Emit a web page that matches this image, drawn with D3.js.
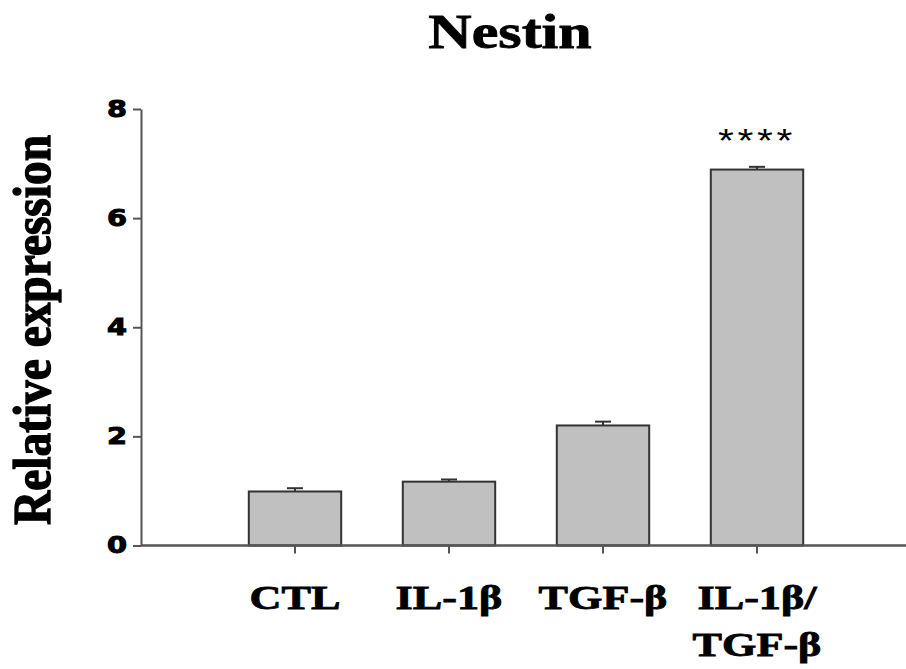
<!DOCTYPE html>
<html>
<head>
<meta charset="utf-8">
<script src="https://cdn.jsdelivr.net/npm/d3@7"></script>
<style>
  body { margin: 0; background: #fff; }
  svg { display: block; }
</style>
</head>
<body>
<div id="chart"></div>
<script>
// data
const groups = ["CTL", "IL-1β", "TGF-β", "IL-1β/TGF-β"];
const groupLines = [["CTL"], ["IL-1β"], ["TGF-β"], ["IL-1β/", "TGF-β"]];
const means = [0.99, 1.17, 2.2, 6.89];
const errors = [0.06, 0.04, 0.07, 0.05];
const yTicks = [0, 2, 4, 6, 8];
const marks = ["", "", "", "****"];

const width = 906, height = 669;

let svg = d3.select("#chart").append("svg")
    .attr("width", width)
    .attr("height", height);

let y = d3.scaleLinear().domain([0, 8]).range([545.5, 109]);
let x = d3.scaleBand().domain(groups).range([218, 834])
    .paddingInner(0.4).paddingOuter(0.2);
const axisX = 141;

// stretch a text element horizontally by factor k
function stretch(sel, k) {
    sel.each(function() {
        let w = this.getComputedTextLength();
        d3.select(this).attr("textLength", w * k).attr("lengthAdjust", "spacingAndGlyphs");
    });
}

// bars
svg.selectAll("rect.bar")
    .data(means)
    .enter()
    .append("rect")
    .attr("class", "bar")
    .attr("x", (d, i) => x(groups[i]))
    .attr("width", x.bandwidth())
    .attr("y", d => y(d))
    .attr("height", d => y(0) - y(d))
    .attr("fill", "#c0c0c0")
    .attr("stroke", "#333")
    .attr("stroke-width", 2);

// error bars (upper only)
let err = svg.selectAll("g.err")
    .data(means)
    .enter()
    .append("g")
    .attr("class", "err")
    .attr("stroke", "#333")
    .attr("stroke-width", 2);
err.append("line")
    .attr("x1", (d, i) => x(groups[i]) + x.bandwidth() / 2)
    .attr("x2", (d, i) => x(groups[i]) + x.bandwidth() / 2)
    .attr("y1", d => y(d))
    .attr("y2", (d, i) => y(d + errors[i]));
err.append("line")
    .attr("x1", (d, i) => x(groups[i]) + x.bandwidth() / 2 - 8)
    .attr("x2", (d, i) => x(groups[i]) + x.bandwidth() / 2 + 8)
    .attr("y1", (d, i) => y(d + errors[i]))
    .attr("y2", (d, i) => y(d + errors[i]));

// y axis
let yAxis = svg.append("g")
    .attr("transform", `translate(${axisX},0)`)
    .call(d3.axisLeft(y).tickValues(yTicks).tickSize(8).tickSizeOuter(0).tickPadding(6));
yAxis.select(".domain").attr("stroke", "#555").attr("stroke-width", 2);
yAxis.selectAll(".tick line").attr("stroke", "#555").attr("stroke-width", 2);
yAxis.selectAll(".tick text")
    .attr("font-family", "'DejaVu Sans', sans-serif")
    .attr("font-weight", "bold")
    .attr("font-size", 23)
    .attr("fill", "#000")
    .attr("stroke", "#000")
    .attr("stroke-width", 1)
    .attr("x", -14)
    .call(stretch, 1.25);

// x axis: ticks from the band scale, baseline drawn across to the right edge
let xAxis = svg.append("g")
    .attr("transform", `translate(0,${y(0)})`)
    .call(d3.axisBottom(x).tickSize(8).tickSizeOuter(0).tickFormat(""));
xAxis.select(".domain").remove();
xAxis.selectAll(".tick line").attr("stroke", "#555").attr("stroke-width", 2);
svg.append("line")
    .attr("x1", axisX).attr("x2", width)
    .attr("y1", y(0)).attr("y2", y(0))
    .attr("stroke", "#555").attr("stroke-width", 2.5);

// category labels
let labels = svg.selectAll("text.cat")
    .data(groupLines)
    .enter()
    .append("text")
    .attr("class", "cat")
    .attr("font-family", "'Liberation Serif', 'Times New Roman', serif")
    .attr("font-weight", "bold")
    .attr("font-size", 34)
    .attr("stroke", "#000")
    .attr("stroke-width", 0.8)
    .attr("text-anchor", "middle");
labels.selectAll("tspan")
    .data((d, i) => d.map(t => ({ t: t, g: groups[i] })))
    .enter()
    .append("tspan")
    .attr("x", d => x(d.g) + x.bandwidth() / 2)
    .attr("y", (d, j) => 609 + j * 47)
    .text(d => d.t);
labels.selectAll("tspan").call(stretch, 1.3);

// significance stars
svg.selectAll("text.sig")
    .data(means)
    .enter()
    .append("text")
    .attr("class", "sig")
    .attr("x", (d, i) => x(groups[i]) + x.bandwidth() / 2)
    .attr("y", (d, i) => y(d + errors[i]) - 15)
    .attr("text-anchor", "middle")
    .attr("font-family", "'Liberation Sans', Arial, sans-serif")
    .attr("font-size", 34)
    .attr("letter-spacing", 3)
    .text((d, i) => marks[i])
    .filter((d, i) => marks[i] !== "")
    .call(stretch, 1.2);

// title
svg.append("text")
    .attr("x", 510)
    .attr("y", 48)
    .attr("text-anchor", "middle")
    .attr("font-family", "'Liberation Serif', 'Times New Roman', serif")
    .attr("font-weight", "bold")
    .attr("font-size", 48)
    .attr("stroke", "#000")
    .attr("stroke-width", 0.8)
    .text("Nestin")
    .call(stretch, 1.25);

// y axis title
svg.append("text")
    .attr("transform", "translate(50,330) scale(1.15,1) rotate(-90)")
    .attr("text-anchor", "middle")
    .attr("font-family", "'Liberation Serif', 'Times New Roman', serif")
    .attr("font-weight", "bold")
    .attr("font-size", 46)
    .attr("stroke", "#000")
    .attr("stroke-width", 1.2)
    .attr("textLength", 390)
    .attr("lengthAdjust", "spacingAndGlyphs")
    .text("Relative expression");
</script>
</body>
</html>
